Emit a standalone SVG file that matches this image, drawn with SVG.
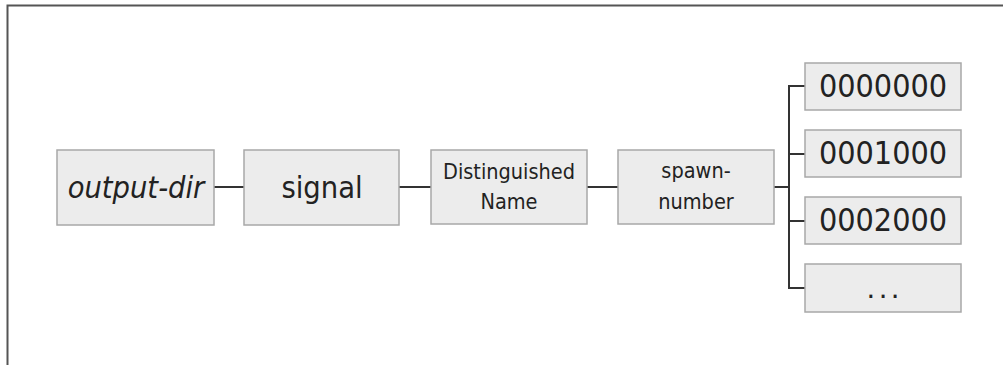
<svg xmlns="http://www.w3.org/2000/svg" width="1003" height="365" viewBox="0 0 1003 365">
<style>
.box{fill:#ececec;stroke:#a8a8a8;stroke-width:1.5}
.t{font-family:"DejaVu Sans Condensed","DejaVu Sans",sans-serif;fill:#222;text-anchor:middle}
.big{font-size:30.5px}
.num{font-size:32px}
.small{font-size:21.5px}
.conn{stroke:#333;stroke-width:2;fill:none}
</style>
<rect width="1003" height="365" fill="#fff"/>
<path d="M7.5,365 V5.5 H1003" fill="none" stroke="#555" stroke-width="2"/>
<g id="connectors">
<path class="conn" d="M214,187 H244"/>
<path class="conn" d="M399,187 H431"/>
<path class="conn" d="M587,187 H618"/>
<path class="conn" d="M774,187 H789"/>
<path class="conn" d="M805,86 H789 V288 H805"/>
<path class="conn" d="M789,154 H805"/>
<path class="conn" d="M789,221 H805"/>
</g>
<g id="output-dir"><rect class="box" x="57" y="150" width="157" height="75"/><text class="t big" x="136" y="198" font-style="italic">output-dir</text></g>
<g id="signal"><rect class="box" x="244" y="150" width="155" height="75"/><text class="t big" x="322" y="198">signal</text></g>
<g id="dn"><rect class="box" x="431" y="150" width="156" height="74"/><text class="t small" x="509" y="179">Distinguished</text><text class="t small" x="509" y="209">Name</text></g>
<g id="spawn"><rect class="box" x="618" y="150" width="156" height="74"/><text class="t small" x="696" y="178">spawn-</text><text class="t small" x="696" y="209">number</text></g>
<g id="n0"><rect class="box" x="805" y="63" width="156" height="47"/><text class="t num" x="883" y="97">0000000</text></g>
<g id="n1"><rect class="box" x="805" y="130" width="156" height="47"/><text class="t num" x="883" y="164">0001000</text></g>
<g id="n2"><rect class="box" x="805" y="197" width="156" height="47"/><text class="t num" x="883" y="231">0002000</text></g>
<g id="n3"><rect class="box" x="805" y="264" width="156" height="48"/><text class="t" x="886" y="298" font-size="18" letter-spacing="6" font-weight="bold">...</text></g>
</svg>
